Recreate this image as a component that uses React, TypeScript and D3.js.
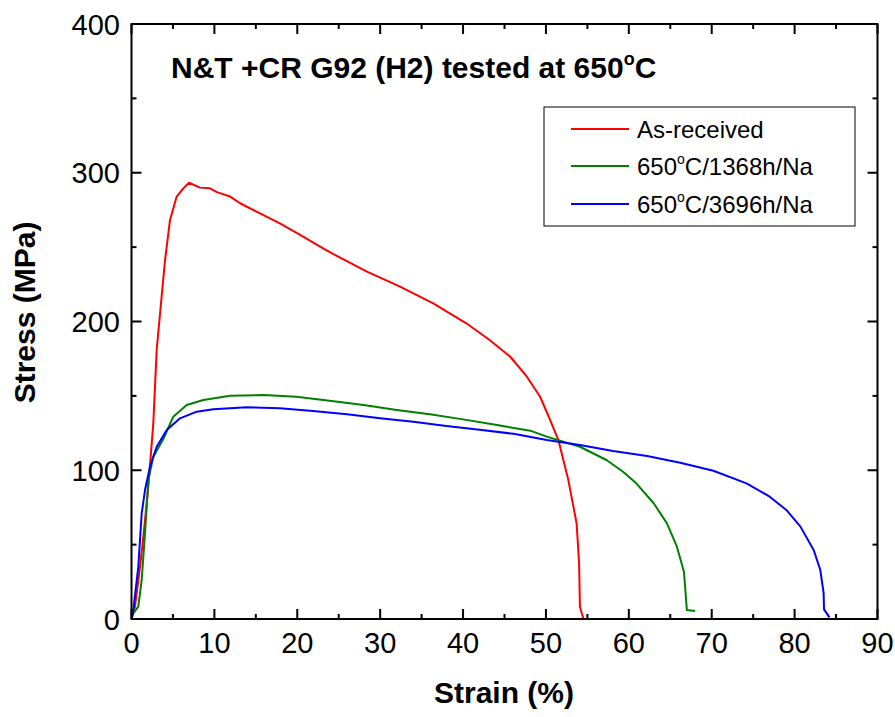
import React from "react";
import * as d3 from "d3";

const redX = [0.05, 0.16, 0.42, 1.03, 1.43, 2.03, 2.63, 3.04, 3.64, 4.04, 4.64, 5.45, 6.25, 6.94, 8.26, 9.47, 10.3, 11.9, 13.1, 15.5, 17.9, 20.4, 22.7, 24.3, 28.4, 32.4, 36.4, 40.4, 43.2, 45.7, 47.7, 49.3, 50.5, 51.5, 52.7, 53.7, 54.0, 54.1, 54.5];
const redY = [1, 3.8, 8.3, 35, 55.3, 89, 131.5, 181, 217, 241, 268, 284, 289.5, 293.3, 290, 289.5, 287, 284, 279.5, 272.7, 266, 258, 250.5, 245.5, 233.5, 223.4, 212.2, 198.8, 187.6, 176.3, 162.9, 149.4, 133.8, 120.3, 93.4, 64.3, 37.4, 8.3, 0.5];

const greenX = [0.05, 0.22, 0.82, 1.23, 1.63, 2.03, 2.63, 3.84, 5.04, 6.66, 8.66, 11.9, 15.9, 19.9, 23.9, 28.0, 32.0, 36.0, 40.0, 44.1, 48.1, 50.1, 54.1, 57.3, 59.3, 60.9, 63.0, 64.6, 65.8, 66.65, 67.0, 68.0];
const greenY = [1, 3.8, 8.3, 26.2, 57.6, 93.4, 109.1, 121, 136, 143.9, 147.2, 150.1, 150.6, 149.4, 146.8, 143.9, 140.5, 137.6, 134.2, 130.4, 126.6, 122.6, 115.8, 106.9, 99, 91.2, 77.8, 64.3, 48.6, 31.8, 6, 5.4];

const blueX = [0.05, 0.22, 0.82, 1.23, 1.63, 2.23, 3.04, 4.25, 5.85, 7.87, 9.87, 13.9, 17.9, 21.9, 26.0, 30.0, 34.0, 38.0, 42.0, 46.1, 50.1, 54.1, 58.1, 62.2, 66.2, 70.2, 74.2, 77.0, 79.0, 80.7, 82.3, 83.1, 83.5, 83.55, 84.2];
const blueY = [1, 6, 35, 71, 86.7, 102.4, 115.8, 127, 134.9, 139.4, 141, 142.3, 141.6, 139.8, 137.6, 134.9, 132.6, 129.7, 127.2, 124.5, 120.3, 117, 112.9, 109.6, 105.1, 99.7, 91.2, 82.2, 73.3, 62.1, 46.4, 32.9, 17.3, 6.5, 1.1];

const xTicks = [0, 10, 20, 30, 40, 50, 60, 70, 80, 90];
const xMinor = [5, 15, 25, 35, 45, 55, 65, 75, 85];
const yTicks = [0, 100, 200, 300, 400];
const yMinor = [50, 150, 250, 350];

const seriesNames = ["As-received", "650", "650"];
const seriesColors = ["#ff0000", "#008000", "#0000ff"];

const FONT = "'Liberation Sans', Arial, Helvetica, sans-serif";

export default function App() {
  const W = 895, H = 717;
  const x = d3.scaleLinear().domain([0, 90]).range([131.5, 877.5]);
  const y = d3.scaleLinear().domain([0, 400]).range([619, 24]);
  const line = d3.line<[number, number]>().x((d) => x(d[0])).y((d) => y(d[1]));
  const series = [
    { xs: redX, ys: redY, c: seriesColors[0] },
    { xs: greenX, ys: greenY, c: seriesColors[1] },
    { xs: blueX, ys: blueY, c: seriesColors[2] },
  ];
  const [x0, x1] = x.range();
  const [yb, yt] = y.range();
  const major = 10, minor = 5;

  const legendY = [129, 166, 204];
  return (
    <svg width={W} height={H} style={{ position: "absolute", left: 0, top: 0, background: "#fff" }} fontFamily={FONT}>
      <rect x={0} y={0} width={W} height={H} fill="#fff" />
      {series.map((s, i) => (
        <path key={i} d={line(s.xs.map((v, j) => [v, s.ys[j]]) as [number, number][]) || ""} fill="none" stroke={s.c} strokeWidth={2} strokeLinejoin="round" />
      ))}
      {/* frame */}
      <rect x={x0} y={yt} width={x1 - x0} height={yb - yt} fill="none" stroke="#000" strokeWidth={2} />
      {/* x ticks */}
      {xTicks.map((t) => (
        <g key={"xt" + t}>
          <line x1={x(t)} x2={x(t)} y1={yb} y2={yb - major} stroke="#000" strokeWidth={2} />
          <line x1={x(t)} x2={x(t)} y1={yt} y2={yt + major} stroke="#000" strokeWidth={2} />
          <text x={x(t)} y={653} fontSize={29} textAnchor="middle" fill="#000">{t}</text>
        </g>
      ))}
      {xMinor.map((t) => (
        <g key={"xm" + t}>
          <line x1={x(t)} x2={x(t)} y1={yb} y2={yb - minor} stroke="#000" strokeWidth={2} />
          <line x1={x(t)} x2={x(t)} y1={yt} y2={yt + minor} stroke="#000" strokeWidth={2} />
        </g>
      ))}
      {yTicks.map((t) => (
        <g key={"yt" + t}>
          <line x1={x0} x2={x0 + major} y1={y(t)} y2={y(t)} stroke="#000" strokeWidth={2} />
          <line x1={x1} x2={x1 - major} y1={y(t)} y2={y(t)} stroke="#000" strokeWidth={2} />
          <text x={120} y={y(t) + 10.5} fontSize={29} textAnchor="end" fill="#000">{t}</text>
        </g>
      ))}
      {yMinor.map((t) => (
        <g key={"ym" + t}>
          <line x1={x0} x2={x0 + minor} y1={y(t)} y2={y(t)} stroke="#000" strokeWidth={2} />
          <line x1={x1} x2={x1 - minor} y1={y(t)} y2={y(t)} stroke="#000" strokeWidth={2} />
        </g>
      ))}
      {/* axis titles */}
      <text x={504} y={703} fontSize={30} fontWeight="bold" textAnchor="middle">Strain (%)</text>
      <text transform="translate(35,312.5) rotate(-90)" fontSize={30} fontWeight="bold" textAnchor="middle">Stress (MPa)</text>
      {/* chart title */}
      <text x={171} y={78} fontSize={30} fontWeight="bold">
        N&amp;T +CR G92 (H2) tested at 650<tspan fontSize={18} dy={-13}>o</tspan><tspan dy={13}>C</tspan>
      </text>
      {/* legend */}
      <rect x={544} y={107} width={311} height={119} fill="#fff" stroke="#000" strokeWidth={1} />
      {series.map((s, i) => (
        <line key={"ll" + i} x1={571} x2={629} y1={legendY[i]} y2={legendY[i]} stroke={s.c} strokeWidth={2} />
      ))}
      <text x={637} y={legendY[0] + 8.5} fontSize={24}>{seriesNames[0]}</text>
      <text x={637} y={legendY[1] + 8.5} fontSize={24}>
        {seriesNames[1]}<tspan fontSize={14} dy={-11}>o</tspan><tspan dy={11}>C/1368h/Na</tspan>
      </text>
      <text x={637} y={legendY[2] + 8.5} fontSize={24}>
        {seriesNames[2]}<tspan fontSize={14} dy={-11}>o</tspan><tspan dy={11}>C/3696h/Na</tspan>
      </text>
    </svg>
  );
}
